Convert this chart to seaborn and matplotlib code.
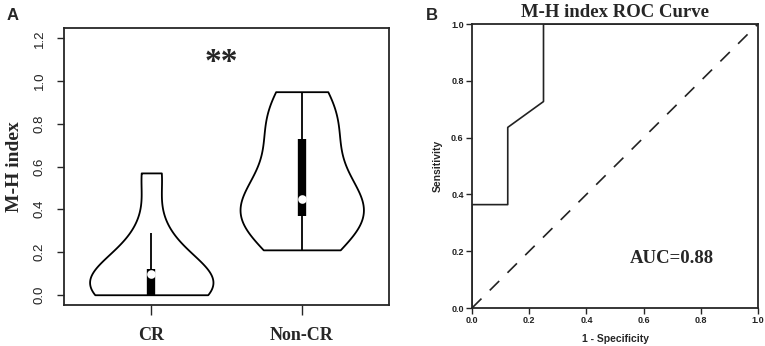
import numpy as np
import pandas as pd
import seaborn as sns
import matplotlib.pyplot as plt

cr_values = [0.0, 0.0, 0.0, 0.04, 0.095, 0.11, 0.12, 0.29, 0.57]
noncr_values = [0.21, 0.30, 0.36, 0.38, 0.41, 0.45, 0.52, 0.69, 0.77, 0.86, 0.95]
groups = ["CR", "Non-CR"]

# ROC curve points
fpr = [0.0, 0.0, 0.125, 0.125, 0.25, 0.25, 1.0]
tpr = [0.0, 0.364, 0.364, 0.636, 0.727, 1.0, 1.0]
auc_text = "AUC=0.88"

df = pd.DataFrame({
    "group": ["CR"] * len(cr_values) + ["Non-CR"] * len(noncr_values),
    "value": cr_values + noncr_values,
})
roc = pd.DataFrame({"fpr": fpr, "tpr": tpr})

sns.set_style("ticks")
plt.rcParams['font.family'] = ['Liberation Sans', 'DejaVu Sans']
serif = ['Liberation Serif', 'DejaVu Serif']

W, H = 765, 346
fig = plt.figure(figsize=(W / 100, H / 100), dpi=100)
axA = fig.add_axes([64 / W, 1 - 305 / H, (389 - 64) / W, (305 - 28) / H])
axB = fig.add_axes([472 / W, 1 - 308 / H, (758 - 472) / W, (308 - 24) / H])

# ---- Panel A: violin plot
sns.violinplot(data=df, x="group", y="value", order=groups, ax=axA,
               cut=0, density_norm="width", width=0.82, bw_adjust=1.0,
               color="white", linecolor="black", linewidth=1.3,
               inner="box", inner_kws=dict(box_width=6, whis_width=1.3))
# vioplot look: square box ends, white dot for the median
for ln in axA.lines:
    mk = ln.get_marker()
    if mk not in (None, "None", "", " "):
        ln.set_marker("o")
        ln.set_markersize(5)
        ln.set_markerfacecolor("white")
        ln.set_markeredgecolor("white")
        ln.set_linestyle("none")
    else:
        ln.set_solid_capstyle("butt")
axA.set_xlim(-0.58, 1.58)
axA.set_ylim(-0.048, 1.248)
axA.set_yticks(np.arange(0, 1.21, 0.2))
axA.set_yticklabels([f"{v:.1f}" for v in np.arange(0, 1.21, 0.2)],
                    rotation=90, va="center", fontsize=9.5, color="#222222")
axA.tick_params(axis="y", length=5, width=1, pad=8)
axA.tick_params(axis="x", length=7, width=1, pad=9)
axA.set_xticks([0, 1])
axA.set_xticklabels(groups, family=serif, fontweight="bold", fontsize=13)
axA.set_xlabel("")
axA.set_ylabel("M-H index", family=serif, fontweight="bold", fontsize=14, labelpad=8)
for s in axA.spines.values():
    s.set_visible(True)
    s.set_linewidth(1.3)
axA.text(0.483, 1.085, "**", transform=axA.get_yaxis_transform(),
         ha="center", va="center", family=serif, fontweight="bold", fontsize=24)

# ---- Panel B: ROC curve
sns.lineplot(data=roc, x="fpr", y="tpr", ax=axB, color="#222222", linewidth=1.2,
             estimator=None, sort=False)
axB.plot([0, 1], [0, 1], color="#222222", linewidth=1.2, linestyle=(0, (8, 7)))
axB.set_xlim(0, 1)
axB.set_ylim(0, 1)
ticks = np.arange(0, 1.01, 0.2)
axB.set_xticks(ticks)
axB.set_yticks(ticks)
axB.set_xticklabels([f"{v:.1f}" for v in ticks], fontsize=6.5, fontweight="bold", color="#222222")
axB.set_yticklabels([f"{v:.1f}" for v in ticks], fontsize=6.5, fontweight="bold", color="#222222")
axB.tick_params(length=4, width=1, pad=2)
axB.set_xlabel("1 - Specificity", fontsize=7.5, fontweight="bold", labelpad=6)
axB.set_ylabel("Sensitivity", fontsize=7.5, fontweight="bold", labelpad=6)
axB.set_title("M-H index ROC Curve", family=serif, fontweight="bold", fontsize=13.5, pad=5)
for s in axB.spines.values():
    s.set_visible(True)
    s.set_linewidth(1.3)
axB.text(0.70, 0.176, auc_text, ha="center", va="center",
         family=serif, fontweight="bold", fontsize=13.5)

fig.text(13 / W, 1 - 15 / H, "A", fontsize=12, fontweight="bold", ha="center", va="center")
fig.text(432 / W, 1 - 15 / H, "B", fontsize=12, fontweight="bold", ha="center", va="center")

fig.savefig("out.png", dpi=100)
